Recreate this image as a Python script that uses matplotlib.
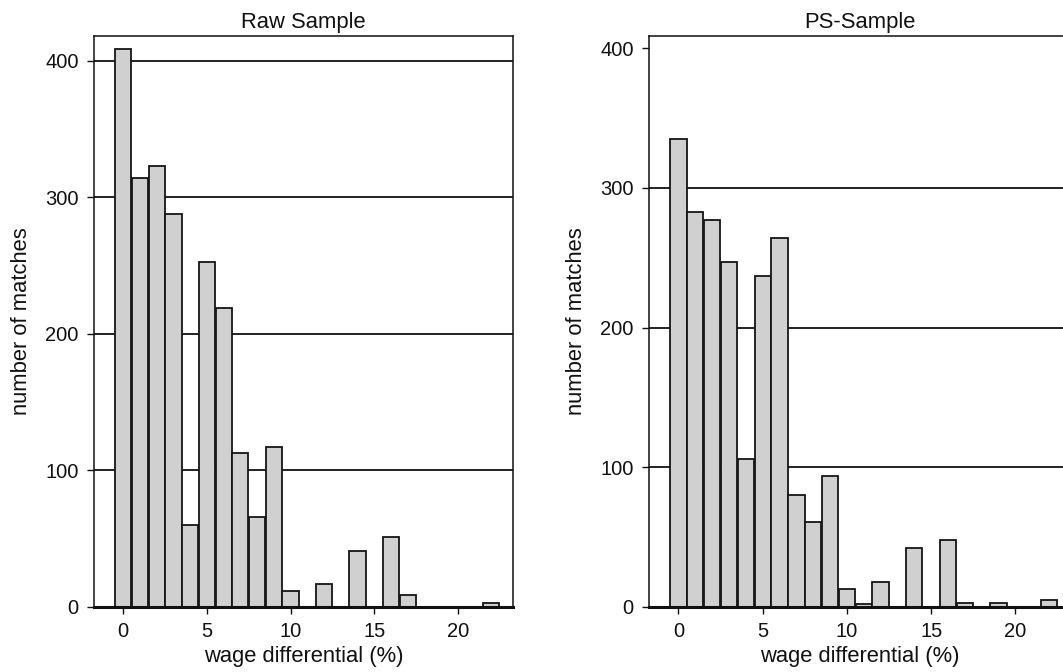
import matplotlib
matplotlib.use("Agg")
import matplotlib.pyplot as plt
import numpy as np

plt.rcParams['font.family'] = ['Liberation Sans', 'DejaVu Sans']

wage_diff = list(range(0, 23))
raw_counts = [409, 314, 323, 288, 60, 253, 219, 113, 66, 117, 12, 0, 17, 0, 41, 0, 51, 9, 0, 0, 0, 0, 3]
ps_counts = [335, 283, 277, 247, 106, 237, 264, 80, 61, 94, 13, 2, 18, 0, 42, 0, 48, 3, 0, 3, 0, 0, 5]
titles = ["Raw Sample", "PS-Sample"]
x_ticks = [0, 5, 10, 15, 20]
y_ticks = [0, 100, 200, 300, 400]

W, H = 1063, 672
fig = plt.figure(figsize=(W / 100, H / 100), dpi=100)
fig.patch.set_facecolor('white')

panels = [
    dict(rect=[94 / W, (H - 607) / H, (513 - 94) / W, 571 / H], counts=raw_counts,
         title=titles[0], ylim=(0, 418.3), grid=[100, 200, 300, 400]),
    dict(rect=[649 / W, (H - 607) / H, (1071 - 649) / W, 571 / H], counts=ps_counts,
         title=titles[1], ylim=(0, 408.6), grid=[100, 200, 300]),
]

fs_tick = 14.5
fs_lab = 15.8
for p in panels:
    ax = fig.add_axes(p['rect'])
    for g in p['grid']:
        ax.axhline(g, color='#111111', lw=1.3, zorder=0)
    ax.bar(wage_diff, p['counts'], width=0.97, color='#d0d0d0', edgecolor='#151515',
           linewidth=1.3, zorder=2)
    ax.set_xlim(-1.75, 23.3)
    ax.set_ylim(*p['ylim'])
    ax.set_xticks(x_ticks)
    ax.set_yticks(y_ticks)
    ax.tick_params(axis='both', direction='out', length=5, width=1, colors='#111111',
                   labelsize=fs_tick, pad=6)
    for s in ['top', 'right', 'left']:
        ax.spines[s].set_linewidth(1.1)
        ax.spines[s].set_color('#111111')
    ax.spines['bottom'].set_linewidth(2.2)
    ax.spines['bottom'].set_color('#111111')
    ax.set_title(p['title'], fontsize=fs_lab, pad=5.5, color='#111111')
    ax.set_xlabel('wage differential (%)', fontsize=fs_lab, va='center', color='#111111')
    ax.xaxis.set_label_coords(0.5, -0.086)
    ax.set_ylabel('number of matches', fontsize=fs_lab, va='center', color='#111111')
    ax.yaxis.set_label_coords(-0.172, 0.5)

fig.savefig('out.png', dpi=100, facecolor='white')
